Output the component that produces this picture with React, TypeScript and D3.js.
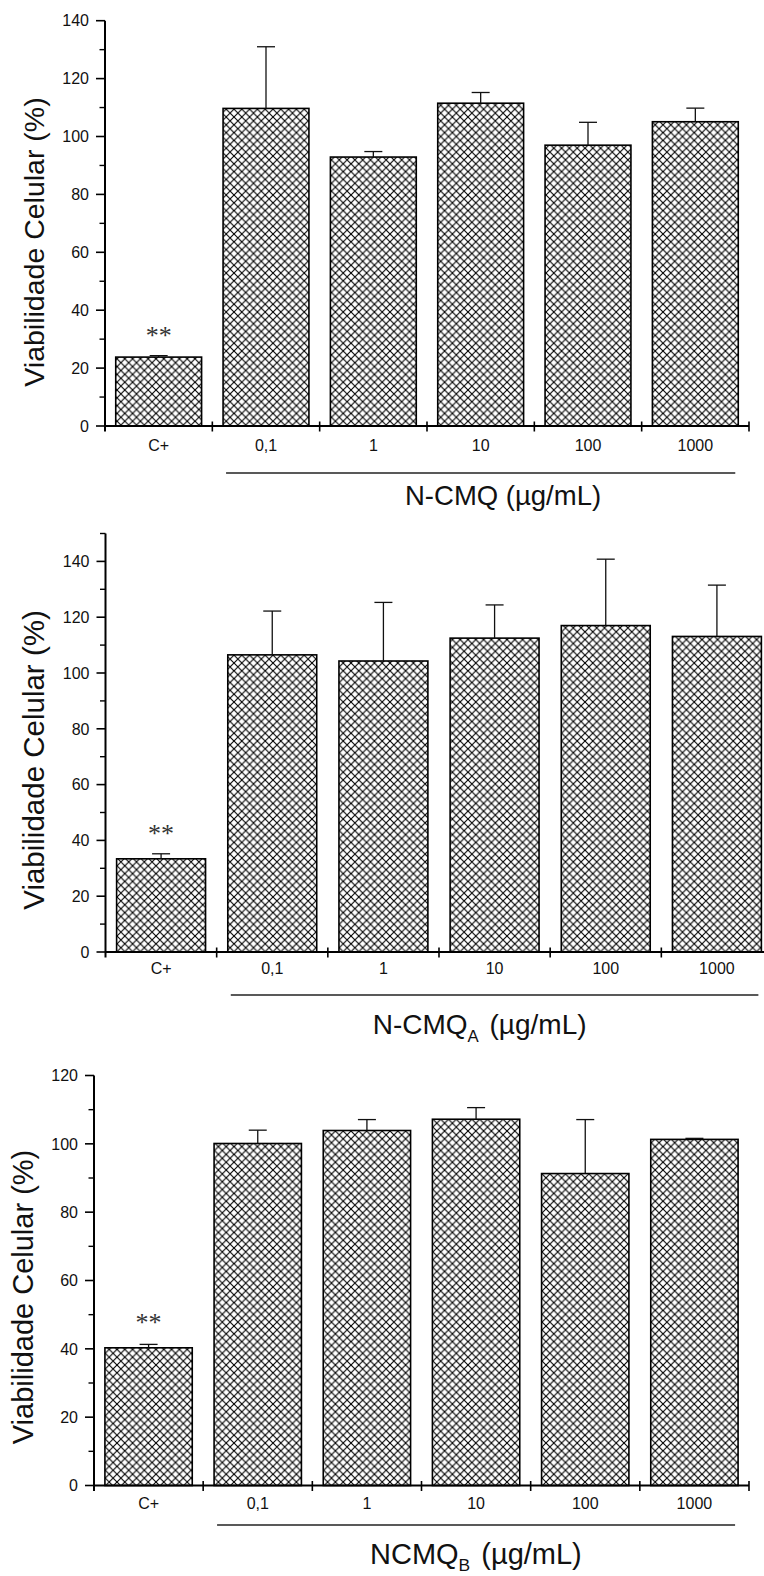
import React from "react";
import * as d3 from "d3";

// ---- data ----
const categories = ["C+", "0,1", "1", "10", "100", "1000"];

const ncmqMeans = [23.8, 109.7, 92.9, 111.5, 97.0, 105.1];
const ncmqErrors = [0.5, 21.3, 1.9, 3.7, 7.9, 4.7];

const ncmqAMeans = [33.4, 106.5, 104.3, 112.5, 117.0, 113.1];
const ncmqAErrors = [1.8, 15.7, 21.0, 11.9, 23.8, 18.4];

const ncmqBMeans = [40.3, 100.1, 103.9, 107.2, 91.3, 101.3];
const ncmqBErrors = [1.0, 3.9, 3.2, 3.4, 15.8, 0.3];

const majorTicks140 = [0, 20, 40, 60, 80, 100, 120, 140];
const majorTicks120 = [0, 20, 40, 60, 80, 100, 120];

const yTitle = "Viabilidade Celular (%)";
const significance = "**";

const SANS = "'Liberation Sans', Arial, Helvetica, sans-serif";
const SERIF = "'Liberation Serif', 'Times New Roman', serif";

type PanelProps = {
  means: number[];
  errors: number[];
  yMax: number;
  majorTicks: number[];
  y0: number;
  yTopPx: number;
  x0: number;
  x1: number;
  labelBaseline: number;
  yTitleX: number;
  yTitleY: number;
  yTitleSize: number;
  starGap: number;
  titleMain: string;
  titleSub: string;
  titleX: number;
  titleBaseline: number;
  titleSize: number;
  subShift: number;
  groupLineY: number;
};

function Panel(p: PanelProps) {
  const x = d3
    .scaleBand<string>()
    .domain(categories)
    .range([p.x0, p.x1])
    .paddingInner(0.2)
    .paddingOuter(0.1);
  const y = d3.scaleLinear().domain([0, p.yMax]).range([p.y0, p.yTopPx]);
  const bw = x.bandwidth();
  const step = x.step();
  const minorTicks = d3.range(10, p.yMax + 0.001, 20);
  const boundaries = d3.range(0, categories.length + 1).map((i) => p.x0 + i * step);
  const firstGroup = x(categories[1])! + 3;
  const lastGroup = x(categories[categories.length - 1])! + bw - 3;

  return (
    <g>
      {categories.map((c, i) => (
        <rect
          key={c}
          x={x(c)}
          y={y(p.means[i])}
          width={bw}
          height={y(0) - y(p.means[i])}
          fill="url(#crosshatch)"
          stroke="#000"
          strokeWidth={1.6}
        />
      ))}
      {categories.map((c, i) => {
        const cx = x(c)! + bw / 2;
        const top = y(p.means[i] + p.errors[i]);
        return (
          <g key={"e" + c} stroke="#111" strokeWidth={1.3}>
            <line x1={cx} x2={cx} y1={y(p.means[i])} y2={top} />
            <line x1={cx - 9} x2={cx + 9} y1={top} y2={top} />
          </g>
        );
      })}
      <text
        x={x(categories[0])! + bw / 2}
        y={y(p.means[0] + p.errors[0]) - p.starGap}
        textAnchor="middle"
        fontFamily={SERIF}
        fontSize={26}
        fill="#333"
      >
        {significance}
      </text>
      <line x1={p.x0} x2={p.x0} y1={p.y0 + 5.5} y2={y(p.yMax)} stroke="#000" strokeWidth={2} />
      {p.majorTicks.map((t) => (
        <g key={"mt" + t}>
          <line x1={p.x0 - 9} x2={p.x0} y1={y(t)} y2={y(t)} stroke="#000" strokeWidth={1.6} />
          <text
            x={p.x0 - 16}
            y={y(t)}
            dy="0.36em"
            textAnchor="end"
            fontFamily={SANS}
            fontSize={16}
            fill="#111"
          >
            {t}
          </text>
        </g>
      ))}
      {minorTicks.map((t) => (
        <line key={"mn" + t} x1={p.x0 - 5.5} x2={p.x0} y1={y(t)} y2={y(t)} stroke="#000" strokeWidth={1.4} />
      ))}
      <line x1={p.x0} x2={p.x1} y1={p.y0} y2={p.y0} stroke="#000" strokeWidth={2} />
      {boundaries.slice(1).map((bx, i) => (
        <line key={"xt" + i} x1={bx} x2={bx} y1={p.y0 - 4.5} y2={p.y0 + 5.5} stroke="#000" strokeWidth={1.6} />
      ))}
      {categories.map((c) => (
        <text
          key={"xl" + c}
          x={x(c)! + bw / 2}
          y={p.labelBaseline}
          textAnchor="middle"
          fontFamily={SANS}
          fontSize={16}
          fill="#111"
        >
          {c}
        </text>
      ))}
      <line x1={firstGroup} x2={lastGroup} y1={p.groupLineY} y2={p.groupLineY} stroke="#222" strokeWidth={1.4} />
      <text x={p.titleX} y={p.titleBaseline} fontFamily={SANS} fontSize={p.titleSize} fill="#111">
        {p.titleMain}
        {p.titleSub ? (
          <>
            <tspan fontSize={p.titleSize * 0.6} dy={p.subShift}>
              {p.titleSub}
            </tspan>
            <tspan dy={-p.subShift} dx={3}>
              {" (\u00B5g/mL)"}
            </tspan>
          </>
        ) : (
          <tspan>{" (\u00B5g/mL)"}</tspan>
        )}
      </text>
      <text
        transform={`translate(${p.yTitleX},${p.yTitleY}) rotate(-90)`}
        textAnchor="middle"
        fontFamily={SANS}
        fontSize={p.yTitleSize}
        fill="#111"
      >
        {yTitle}
      </text>
    </g>
  );
}

export default function App() {
  return (
    <svg
      width={764}
      height={1576}
      viewBox="0 0 764 1576"
      style={{ position: "absolute", left: 0, top: 0, background: "#fff" }}
    >
      <defs>
        <pattern id="crosshatch" patternUnits="userSpaceOnUse" width={7.8} height={7.8}>
          <rect width={7.8} height={7.8} fill="#fff" />
          <path d="M-2,-2 L9.8,9.8 M-2,9.8 L9.8,-2" stroke="#000" strokeWidth={1.1} />
        </pattern>
      </defs>
      <rect width={764} height={1576} fill="#fff" />
      <Panel
        means={ncmqMeans}
        errors={ncmqErrors}
        yMax={140}
        majorTicks={majorTicks140}
        y0={426}
        yTopPx={20.7}
        x0={105}
        x1={749}
        labelBaseline={450.5}
        yTitleX={44}
        yTitleY={242}
        yTitleSize={28.5}
        starGap={12}
        titleMain="N-CMQ"
        titleSub=""
        titleX={405}
        titleBaseline={505}
        titleSize={27.5}
        subShift={8}
        groupLineY={473}
      />
      <Panel
        means={ncmqAMeans}
        errors={ncmqAErrors}
        yMax={150}
        majorTicks={majorTicks140}
        y0={952}
        yTopPx={533.5}
        x0={105.5}
        x1={772.5}
        labelBaseline={974}
        yTitleX={44}
        yTitleY={760}
        yTitleSize={29.5}
        starGap={12}
        titleMain="N-CMQ"
        titleSub="A"
        titleX={372.7}
        titleBaseline={1034}
        titleSize={28}
        subShift={8}
        groupLineY={995}
      />
      <Panel
        means={ncmqBMeans}
        errors={ncmqBErrors}
        yMax={120}
        majorTicks={majorTicks120}
        y0={1485.5}
        yTopPx={1075.5}
        x0={94}
        x1={749}
        labelBaseline={1509}
        yTitleX={33}
        yTitleY={1297}
        yTitleSize={29}
        starGap={13}
        titleMain="NCMQ"
        titleSub="B"
        titleX={370}
        titleBaseline={1564}
        titleSize={29}
        subShift={6.5}
        groupLineY={1525}
      />
    </svg>
  );
}
